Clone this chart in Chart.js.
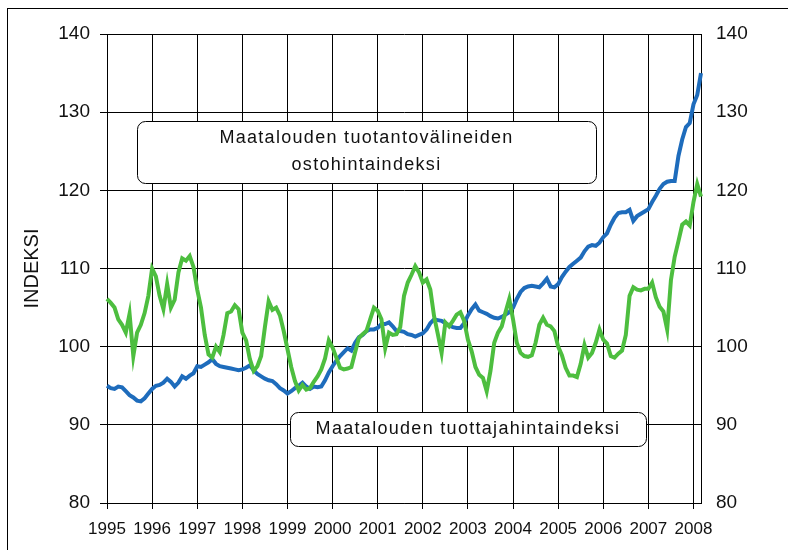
<!DOCTYPE html>
<html>
<head>
<meta charset="utf-8">
<script src="https://cdn.jsdelivr.net/npm/chart.js@4.4.1/dist/chart.umd.min.js"></script>
<style>
  html, body { margin: 0; padding: 0; background: #fff; }
</style>
</head>
<body>
<canvas id="myChart" width="788" height="550"></canvas>
<script>
"use strict";

// monthly, Jan 1995 .. Mar 2008
const years = [1995, 1996, 1997, 1998, 1999, 2000, 2001, 2002, 2003, 2004, 2005, 2006, 2007, 2008];
const months = [];
years.forEach((y) => {
  const last = y === 2008 ? 3 : 12;
  for (let m = 1; m <= last; m++) months.push(`${y}-${m}`);
});

const yTicks = [80, 90, 100, 110, 120, 130, 140];

// Maatalouden tuottajahintaindeksi
const producerIndex = [
  106.1, 105.6, 105.0, 103.5, 102.8, 101.8, 104.2, 98.8, 101.8, 102.8, 104.3, 106.5,
  110.0, 109.0, 106.5, 104.8, 108.0, 105.0, 106.0, 109.5, 111.3, 111.0, 111.6, 110.2,
  107.3, 105.0, 101.5, 99.0, 98.6, 100.0, 99.3, 101.5, 104.3, 104.5, 105.3, 104.8,
  101.8, 100.8, 98.4, 96.9, 97.5, 98.8, 102.5, 105.8, 104.7, 105.0, 104.0, 102.0,
  99.7, 97.4, 95.6, 94.4, 95.1, 94.5, 94.7, 95.5, 96.2, 97.1, 98.5, 100.8,
  99.9, 98.6, 97.3, 97.1, 97.2, 97.4, 99.3, 101.1, 101.6, 102.0, 103.5, 105.0,
  104.6, 103.5, 99.8, 101.8, 101.5, 101.6, 102.5, 106.5, 108.2, 109.2, 110.3, 109.5,
  108.2, 108.6, 107.3, 103.9, 101.6, 99.2, 103.1, 102.6, 103.3, 104.1, 104.4, 103.3,
  100.9, 99.4, 97.4, 96.4, 96.0, 94.3, 96.9, 100.5, 101.8, 102.6, 104.4, 106.1,
  103.5, 100.5, 99.2, 98.8, 98.7, 98.9, 100.5, 102.8, 103.7, 102.8, 102.6, 102.0,
  100.0, 98.9, 97.3, 96.3, 96.3, 96.1, 97.8, 100.2, 98.6, 99.2, 100.5, 102.2,
  100.9, 100.4, 98.8, 98.6, 99.1, 99.5, 101.5, 106.5, 107.6, 107.3, 107.2, 107.4,
  107.4, 108.2, 106.3, 105.1, 104.5, 102.2, 108.5, 111.5, 113.5, 115.6, 116.0, 115.5,
  118.5, 120.8, 119.2,
];

// Maatalouden tuotantovälineiden ostohintaindeksi
const inputIndex = [
  95.0, 94.7, 94.6, 94.9, 94.8, 94.3, 93.8, 93.5, 93.1, 93.0, 93.4, 94.0,
  94.6, 95.0, 95.1, 95.4, 95.9, 95.5, 94.9, 95.4, 96.2, 95.9, 96.3, 96.6,
  97.5, 97.4, 97.7, 98.0, 98.4, 97.8, 97.5, 97.4, 97.3, 97.2, 97.1, 97.0,
  97.1, 97.3, 97.6, 97.0, 96.5, 96.2, 95.9, 95.7, 95.6, 95.2, 94.7, 94.4,
  94.0, 94.3, 94.7, 95.0, 95.4, 94.9, 94.6, 94.9, 94.8, 94.9, 95.7, 96.7,
  97.5, 98.2, 98.8, 99.3, 99.8, 99.5, 100.5, 101.2, 101.5, 102.0, 102.2, 102.2,
  102.4, 102.9, 102.9, 103.1, 102.6, 102.0, 102.0, 101.9, 101.6, 101.5, 101.3, 101.5,
  101.7, 102.2, 103.0, 103.5, 103.4, 103.3, 103.0, 102.7, 102.5, 102.4, 102.4, 103.0,
  104.0, 104.8, 105.4, 104.6, 104.4, 104.2, 103.9, 103.7, 103.6, 103.8, 104.1, 104.4,
  105.0, 106.1, 107.0, 107.5, 107.7, 107.8, 107.7, 107.6, 108.1, 108.7, 107.7, 107.6,
  108.0, 108.9, 109.6, 110.2, 110.6, 111.0, 111.4, 112.2, 112.8, 113.0, 112.9, 113.3,
  114.0, 114.5, 115.6, 116.5, 117.1, 117.2, 117.2, 117.5, 116.1, 116.7, 117.0, 117.3,
  117.6, 118.5, 119.3, 120.2, 120.8, 121.1, 121.2, 121.2, 124.4, 126.5, 128.1, 128.6,
  131.0, 132.2, 135.0,
];

const boxLabels = [
  ["Maatalouden tuotantovälineiden", "ostohintaindeksi"],
  ["Maatalouden tuottajahintaindeksi"],
];

const FONT = "'Liberation Sans', Arial, sans-serif";
const isYearStart = (i) => i % 12 === 0;

// white page + outer frame + the two labelled boxes
const decorPlugin = {
  id: "decor",
  beforeDraw(chart) {
    const c = chart.ctx;
    c.save();
    c.fillStyle = "#fff";
    c.fillRect(0, 0, chart.width, chart.height);
    c.strokeStyle = "#000";
    c.lineWidth = 1;
    c.strokeRect(7.5, 8.5, 900, 700);
    c.restore();
  },
  afterDraw(chart) {
    const c = chart.ctx;
    const drawBox = (x, y, w, h, lines, lineGap) => {
      c.save();
      c.beginPath();
      c.roundRect(x + 0.5, y + 0.5, w, h, 8);
      c.fillStyle = "#fff";
      c.fill();
      c.strokeStyle = "#000";
      c.lineWidth = 1;
      c.stroke();
      c.fillStyle = "#111";
      c.font = `18px ${FONT}`;
      c.textAlign = "center";
      c.textBaseline = "middle";
      c.letterSpacing = "1.3px";
      const cy = y + h / 2 - ((lines.length - 1) * lineGap) / 2;
      lines.forEach((t, i) => c.fillText(t, x + w / 2, cy + i * lineGap));
      c.restore();
    };
    drawBox(137, 121, 459, 62, boxLabels[0], 27);
    drawBox(290, 412, 356, 34, boxLabels[1], 0);
  },
};

const ctx = document.getElementById("myChart").getContext("2d");
const myChart = new Chart(ctx, {
  type: "line",
  data: {
    labels: months,
    datasets: [
      {
        label: "Maatalouden tuottajahintaindeksi",
        data: producerIndex,
        borderColor: "#4dbe3f",
        borderWidth: 4,
        pointRadius: 0,
        tension: 0,
        yAxisID: "y",
      },
      {
        label: "Maatalouden tuotantovälineiden ostohintaindeksi",
        data: inputIndex,
        borderColor: "#1e6cbc",
        borderWidth: 4,
        pointRadius: 0,
        tension: 0,
        yAxisID: "y",
      },
    ],
  },
  options: {
    responsive: false,
    animation: false,
    devicePixelRatio: 1,
    layout: { padding: { top: 34, left: 0, right: 0, bottom: 0 } },
    plugins: {
      legend: { display: false },
      tooltip: { enabled: false },
    },
    scales: {
      x: {
        type: "category",
        offset: false,
        grid: {
          color: (c) => (isYearStart(c.index) ? "#000" : "rgba(0,0,0,0)"),
          lineWidth: 1,
          tickLength: 6,
        },
        border: { color: "#000" },
        ticks: {
          autoSkip: false,
          maxRotation: 0,
          minRotation: 0,
          padding: 10,
          color: "#111",
          font: { family: FONT, size: 17 },
          callback: (v, i) => (isYearStart(i) ? months[i].split("-")[0] : ""),
        },
        afterFit: (s) => { s.height = 47; },
      },
      y: {
        position: "left",
        min: yTicks[0],
        max: yTicks[yTicks.length - 1],
        afterBuildTicks: (s) => { s.ticks = yTicks.map((v) => ({ value: v })); },
        grid: { color: "#000", tickLength: 7 },
        border: { color: "#000" },
        ticks: {
          padding: 10,
          color: "#111",
          font: { family: FONT, size: 19 },
        },
        title: {
          display: true,
          text: "INDEKSI",
          color: "#111",
          font: { family: FONT, size: 20 },
          padding: { top: 20, bottom: 0 },
        },
        afterFit: (s) => { s.width = 107; },
      },
      y2: {
        position: "right",
        min: yTicks[0],
        max: yTicks[yTicks.length - 1],
        afterBuildTicks: (s) => { s.ticks = yTicks.map((v) => ({ value: v })); },
        grid: { drawOnChartArea: false, drawTicks: false },
        border: { color: "#000" },
        ticks: {
          padding: 15,
          color: "#111",
          font: { family: FONT, size: 19 },
        },
        afterFit: (s) => { s.width = 87; },
      },
    },
  },
  plugins: [decorPlugin],
});
</script>
</body>
</html>
